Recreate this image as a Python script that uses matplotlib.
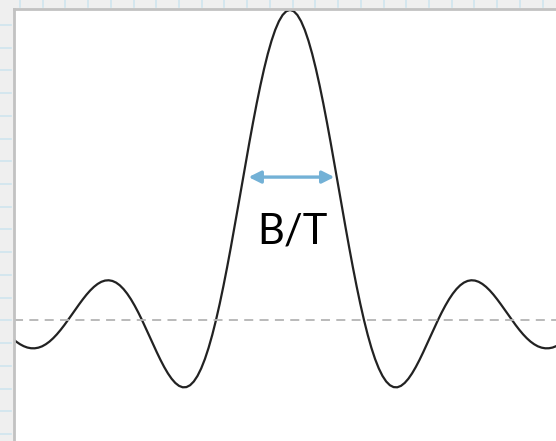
import matplotlib
matplotlib.use("Agg")
import matplotlib.pyplot as plt

# curve (x in units of the first zero, y relative to the peak)
xs = [-3.8, -3.75, -3.7, -3.65, -3.6, -3.55, -3.5, -3.45, -3.4, -3.35, -3.3, -3.25,
      -3.2, -3.15, -3.1, -3.05, -3.0, -2.95, -2.9, -2.85, -2.8, -2.75, -2.7, -2.65,
      -2.6, -2.55, -2.5, -2.45, -2.4, -2.35, -2.3, -2.25, -2.2, -2.15, -2.1, -2.05,
      -2.0, -1.95, -1.9, -1.85, -1.8, -1.75, -1.7, -1.65, -1.6, -1.55, -1.5, -1.45,
      -1.4, -1.35, -1.3, -1.25, -1.2, -1.15, -1.1, -1.05, -1.0, -0.95, -0.9, -0.85,
      -0.8, -0.75, -0.7, -0.65, -0.6, -0.55, -0.5, -0.45, -0.4, -0.35, -0.3, -0.25,
      -0.2, -0.15, -0.1, -0.05, 0.0, 0.05, 0.1, 0.15, 0.2, 0.25, 0.3, 0.35,
      0.4, 0.45, 0.5, 0.55, 0.6, 0.65, 0.7, 0.75, 0.8, 0.85, 0.9, 0.95,
      1.0, 1.05, 1.1, 1.15, 1.2, 1.25, 1.3, 1.35, 1.4, 1.45, 1.5, 1.55,
      1.6, 1.65, 1.7, 1.75, 1.8, 1.85, 1.9, 1.95, 2.0, 2.05, 2.1, 2.15,
      2.2, 2.25, 2.3, 2.35, 2.4, 2.45, 2.5, 2.55, 2.6, 2.65, 2.7, 2.75,
      2.8, 2.85, 2.9, 2.95, 3.0, 3.05, 3.1, 3.15, 3.2, 3.25, 3.3, 3.35,
      3.4, 3.45, 3.5, 3.55, 3.6, 3.65, 3.7]
ys = [-0.0492, -0.0600, -0.0696, -0.0777, -0.0841, -0.0886, -0.0909, -0.0911, -0.0890, -0.0847, -0.0780, -0.0693,
      -0.0585, -0.0459, -0.0317, -0.0163, 0.0, 0.0169, 0.0339, 0.0507, 0.0668, 0.0819, 0.0954, 0.1070,
      0.1164, 0.1233, 0.1273, 0.1283, 0.1261, 0.1207, 0.1120, 0.1000, 0.0850, 0.0672, 0.0468, 0.0243,
      0.0, -0.0255, -0.0518, -0.0781, -0.1039, -0.1286, -0.1515, -0.1719, -0.1892, -0.2028, -0.2122, -0.2168,
      -0.2162, -0.2101, -0.1981, -0.1801, -0.1559, -0.1257, -0.0894, -0.0474, 0.0, 0.0524, 0.1093, 0.1700,
      0.2339, 0.3001, 0.3679, 0.4363, 0.5046, 0.5716, 0.6366, 0.6987, 0.7568, 0.8103, 0.8584, 0.9003,
      0.9355, 0.9634, 0.9836, 0.9959, 1.0, 0.9959, 0.9836, 0.9634, 0.9355, 0.9003, 0.8584, 0.8103,
      0.7568, 0.6987, 0.6366, 0.5716, 0.5046, 0.4363, 0.3679, 0.3001, 0.2339, 0.1700, 0.1093, 0.0524,
      0.0, -0.0474, -0.0894, -0.1257, -0.1559, -0.1801, -0.1981, -0.2101, -0.2162, -0.2168, -0.2122, -0.2028,
      -0.1892, -0.1719, -0.1515, -0.1286, -0.1039, -0.0781, -0.0518, -0.0255, 0.0, 0.0243, 0.0468, 0.0672,
      0.0850, 0.1000, 0.1120, 0.1207, 0.1261, 0.1283, 0.1273, 0.1233, 0.1164, 0.1070, 0.0954, 0.0819,
      0.0668, 0.0507, 0.0339, 0.0169, 0.0, -0.0163, -0.0317, -0.0459, -0.0585, -0.0693, -0.0780, -0.0847,
      -0.0890, -0.0911, -0.0909, -0.0886, -0.0841, -0.0777, -0.0696]

arrow_x = [-0.56, 0.60]
arrow_y = 0.461
label = "B/T"

W, H = 556, 441
fig = plt.figure(figsize=(W / 100, H / 100), dpi=100)
fig.patch.set_facecolor("#efefef")

# ruler strip behind the panel
bg = fig.add_axes([0, 0, 1, 1])
bg.set_xlim(0, W)
bg.set_ylim(H, 0)
bg.axis("off")
for k in range(25):
    x = 20 + 22.72 * k
    bg.plot([x, x], [0, 7], color="#cfe5ee", lw=1.2)
    y = 25 + 22.72 * k
    bg.plot([0, 11], [y, y], color="#cfe5ee", lw=1.2)

ax = fig.add_axes([14 / W, 0, (W - 14) / W, (H - 9) / H])
ax.set_facecolor("white")
ax.plot(xs, ys, color="#222222", lw=1.6, solid_capstyle="round", solid_joinstyle="round")
ax.axhline(0, color="#b4b4b4", lw=1.3, dashes=(5, 3.5))

ax.annotate("", xy=(arrow_x[0], arrow_y), xytext=(arrow_x[1], arrow_y),
            arrowprops=dict(arrowstyle="<|-|>", color="#73b1d6", lw=2.4,
                            mutation_scale=18, shrinkA=0, shrinkB=0))
ax.text(0.03, 0.285, label, ha="center", va="center", fontsize=30,
        family=["Lato", "Open Sans", "DejaVu Sans"], color="black")

ax.set_xlim(-3.73, 3.595)
ax.set_ylim(-0.390, 1.003)
ax.set_xticks([])
ax.set_yticks([])
for s in ["right", "bottom"]:
    ax.spines[s].set_visible(False)
for s in ["left", "top"]:
    ax.spines[s].set_color("#c2c2c2")
    ax.spines[s].set_linewidth(2.0)

fig.savefig("out.png", dpi=100, facecolor=fig.get_facecolor())
